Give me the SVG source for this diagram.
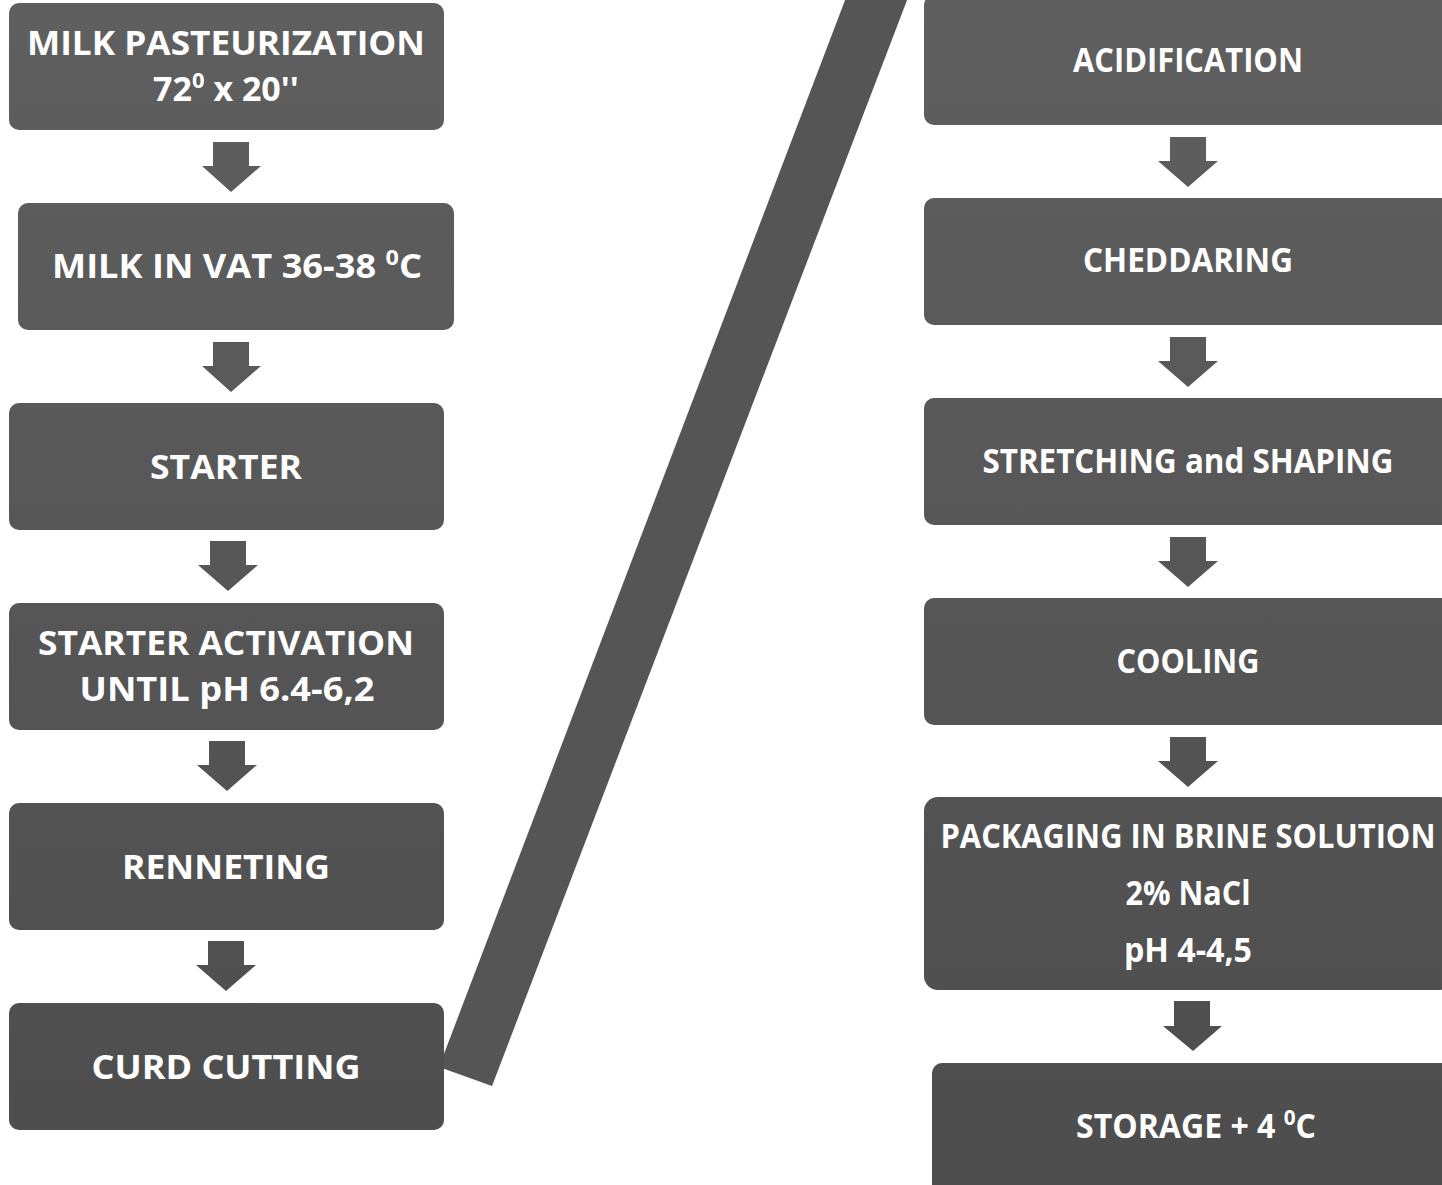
<svg xmlns="http://www.w3.org/2000/svg" width="1442" height="1185" viewBox="0 0 1442 1185">
<defs>
<linearGradient id="g" gradientUnits="userSpaceOnUse" x1="0" y1="0" x2="0" y2="1185">
<stop offset="0" stop-color="#5f5f5f"/>
<stop offset="1" stop-color="#4d4d4d"/>
</linearGradient>
<style>
.box{fill:url(#g)}
.arr{fill:url(#g)}
.t{font-family:"Open Sans","Liberation Sans",sans-serif;font-weight:bold;font-size:34px;fill:#ffffff;text-anchor:middle}
.s{font-size:22px}
</style>
</defs>
<rect width="1442" height="1185" fill="#ffffff"/>
<g id="connectors">
<polygon points="847,-5 909,-5 492,1086 439,1067" fill="#555555"/>
<polygon class="arr" points="213,142 249,142 249,166 261,166 231,192 202,166 213,166"/>
<polygon class="arr" points="213,342 249,342 249,366 261,366 231,392 202,366 213,366"/>
<polygon class="arr" points="210,541 246,541 246,565 258,565 228,591 198,565 210,565"/>
<polygon class="arr" points="209,741 245,741 245,765 257,765 227,791 197,765 209,765"/>
<polygon class="arr" points="208,941 244,941 244,965 256,965 226,991 196,965 208,965"/>
<polygon class="arr" points="1170,137 1206,137 1206,161 1218,161 1188,187 1158,161 1170,161"/>
<polygon class="arr" points="1170,337 1206,337 1206,361 1218,361 1188,387 1158,361 1170,361"/>
<polygon class="arr" points="1170,537 1206,537 1206,561 1218,561 1188,587 1158,561 1170,561"/>
<polygon class="arr" points="1170,737 1206,737 1206,761 1218,761 1188,787 1158,761 1170,761"/>
<polygon class="arr" points="1174,1001 1210,1001 1210,1026 1222,1026 1193,1051 1163,1026 1174,1026"/>
</g>
<g id="n1"><rect class="box" x="9" y="3" width="435" height="127" rx="10"/>
<text class="t" x="226" y="55" textLength="398" lengthAdjust="spacingAndGlyphs">MILK PASTEURIZATION</text>
<text class="t" x="226" y="101">72<tspan class="s" dy="-13">0</tspan><tspan dy="13"> x 20''</tspan></text></g>
<g id="n2"><rect class="box" x="18" y="203" width="436" height="127" rx="10"/>
<text class="t" x="237" y="278" textLength="370" lengthAdjust="spacingAndGlyphs">MILK IN VAT 36-38 <tspan class="s" dy="-13">0</tspan><tspan dy="13">C</tspan></text></g>
<g id="n3"><rect class="box" x="9" y="403" width="435" height="127" rx="10"/>
<text class="t" x="226" y="479" textLength="152" lengthAdjust="spacingAndGlyphs">STARTER</text></g>
<g id="n4"><rect class="box" x="9" y="603" width="435" height="127" rx="10"/>
<text class="t" x="226" y="655" textLength="376" lengthAdjust="spacingAndGlyphs">STARTER ACTIVATION</text>
<text class="t" x="227" y="701" textLength="295" lengthAdjust="spacingAndGlyphs">UNTIL pH 6.4-6,2</text></g>
<g id="n5"><rect class="box" x="9" y="803" width="435" height="127" rx="10"/>
<text class="t" x="226" y="879" textLength="208" lengthAdjust="spacingAndGlyphs">RENNETING</text></g>
<g id="n6"><rect class="box" x="9" y="1003" width="435" height="127" rx="10"/>
<text class="t" x="226" y="1079" textLength="269" lengthAdjust="spacingAndGlyphs">CURD CUTTING</text></g>
<g id="n7"><rect class="box" x="924" y="-5" width="530" height="130" rx="10"/>
<text class="t" x="1188" y="72" textLength="230" lengthAdjust="spacingAndGlyphs">ACIDIFICATION</text></g>
<g id="n8"><rect class="box" x="924" y="198" width="530" height="127" rx="10"/>
<text class="t" x="1188" y="272" textLength="210" lengthAdjust="spacingAndGlyphs">CHEDDARING</text></g>
<g id="n9"><rect class="box" x="924" y="398" width="530" height="127" rx="10"/>
<text class="t" x="1188" y="473" textLength="411" lengthAdjust="spacingAndGlyphs">STRETCHING and SHAPING</text></g>
<g id="n10"><rect class="box" x="924" y="598" width="530" height="127" rx="10"/>
<text class="t" x="1188" y="673" textLength="143" lengthAdjust="spacingAndGlyphs">COOLING</text></g>
<g id="n11"><rect class="box" x="924" y="797" width="530" height="193" rx="14"/>
<text class="t" x="1188" y="848" textLength="495" lengthAdjust="spacingAndGlyphs">PACKAGING IN BRINE SOLUTION</text>
<text class="t" x="1188" y="905" textLength="125" lengthAdjust="spacingAndGlyphs">2% NaCl</text>
<text class="t" x="1188" y="962" textLength="128" lengthAdjust="spacingAndGlyphs">pH 4-4,5</text></g>
<g id="n12"><rect class="box" x="932" y="1063" width="530" height="135" rx="10"/>
<text class="t" x="1196" y="1138" textLength="240" lengthAdjust="spacingAndGlyphs">STORAGE + 4 <tspan class="s" dy="-13">0</tspan><tspan dy="13">C</tspan></text></g>
</svg>
